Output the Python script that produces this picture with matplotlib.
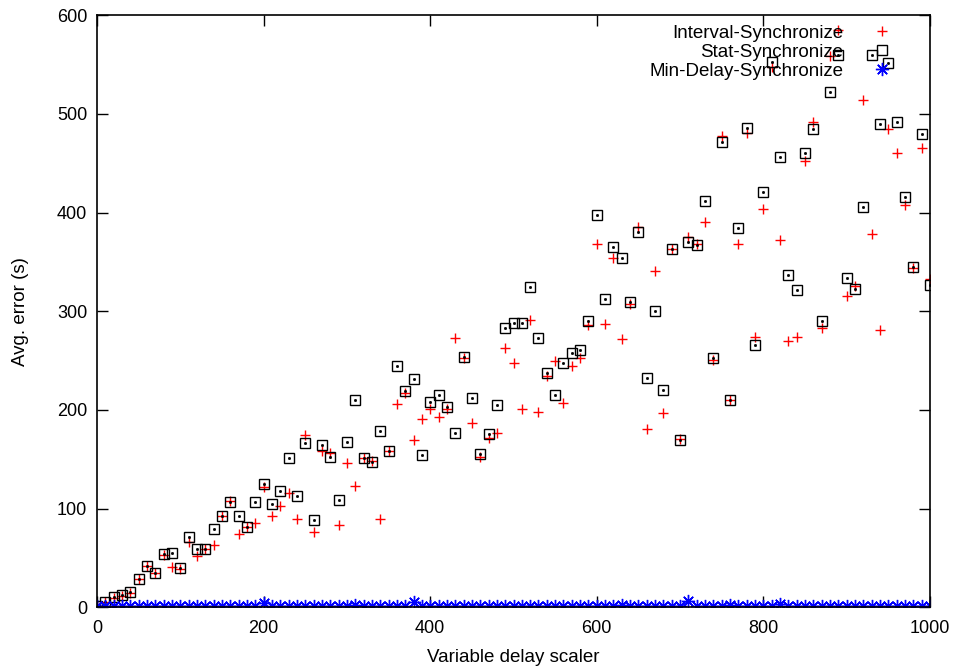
import numpy as np
import matplotlib
matplotlib.use('Agg')
import matplotlib.pyplot as plt


# ##### #
# Data  #
# ##### #
delay_scaler = list(range(0, 1001, 10))

interval_sync = [1, 5, 9, 11.5, 15, 29, 42, 35, 53, 41,
                 39, 66, 52, 59, 63, 93, 108, 74, 81, 85,
                 122, 93, 103, 116, 90, 175, 76, 158, 156, 83,
                 146, 123, 151, 148, 90, 158, 206, 217, 170, 191,
                 201, 193, 201, 273, 253, 187, 152, 172, 177, 263,
                 248, 201, 291, 198, 234, 250, 207, 245, 253, 286,
                 368, 287, 354, 272, 307, 385, 181, 341, 197, 363,
                 171, 375, 368, 391, 251, 478, 210, 368, 481, 274,
                 404, 548, 372, 270, 274, 452, 492, 283, 559, 585,
                 316, 326, 514, 378, 281, 485, 460, 408, 344, 466,
                 333]

stat_sync = [1, 5.6, 10, 12.5, 16, 29, 42, 35, 54, 55,
             40, 71, 59, 59, 79, 93, 107, 93, 81, 107,
             125, 105, 118, 151, 113, 167, 88, 164, 152, 109,
             168, 210, 151, 147, 179, 158, 245, 219, 231, 154,
             208, 215, 203, 177, 254, 212, 155, 176, 205, 283,
             288, 288, 325, 273, 237, 215, 248, 258, 261, 290,
             398, 312, 365, 354, 309, 380, 232, 300, 220, 363,
             170, 370, 367, 412, 253, 472, 210, 384, 486, 266,
             421, 553, 456, 337, 322, 460, 485, 290, 522, 560,
             334, 323, 406, 560, 490, 552, 492, 416, 345, 480,
             327]

min_delay_sync = [1, 1.5, 1, 1.2, 1, 1.4, 1, 1.3, 1, 1.5,
                  1.1, 1.4, 1, 1.2, 1, 1.5, 1.1, 1.3, 1, 1.4,
                  4, 1.2, 1, 1.5, 1, 1.3, 1, 1.4, 1.1, 1.2,
                  1, 2.5, 1, 1.4, 1, 1.3, 1, 1.2, 5, 1.4,
                  1, 1.3, 1.1, 1.5, 1, 1.2, 1, 1.4, 1, 1.3,
                  1.1, 1.5, 1, 1.2, 1, 1.4, 1, 1.3, 1.1, 1.5,
                  1, 1.2, 1, 2, 1, 1.4, 1, 1.3, 1.1, 1.2,
                  1, 6, 1, 1.4, 1, 1.3, 2, 1.2, 1, 1.5,
                  1.1, 1.3, 3.5, 1.4, 1, 1.2, 1, 1.5, 1.1, 1.3,
                  1, 1.4, 1, 1.2, 1, 1.5, 1.1, 1.3, 1, 1.4,
                  1]

x_ticks = [0, 200, 400, 600, 800, 1000]
y_ticks = [0, 100, 200, 300, 400, 500, 600]


# ############### #
# Plot functions  #
# ############### #
def style_axes(ax):
    ax.set_xlim(0, 1000)
    ax.set_ylim(0, 600)
    ax.set_xticks(x_ticks)
    ax.set_yticks(y_ticks)
    ax.tick_params(direction='in', length=8, width=1, top=True, right=True,
                   labelsize=13, colors='black')
    ax.tick_params(axis='x', pad=9)
    ax.tick_params(axis='y', pad=7)
    for spine in ax.spines.values():
        spine.set_linewidth(1.2)
    ax.set_xlabel('Variable delay scaler', fontsize=13.5, labelpad=9)
    ax.set_ylabel('Avg. error (s)', fontsize=13.5, labelpad=20)


def plot_series(ax):
    x = np.array(delay_scaler)
    ax.plot(x, interval_sync, linestyle='none', marker='+', color='#ff0000',
            markersize=7, markeredgewidth=1, label='Interval-Synchronize')
    ax.plot(x, stat_sync, linestyle='none', marker='s', markerfacecolor='none',
            markeredgecolor='black', markersize=7, markeredgewidth=1,
            label='Stat-Synchronize')
    # small dot in the middle of each gnuplot box
    ax.plot(x, stat_sync, linestyle='none', marker='s', color='black',
            markersize=1)
    ax.plot(x, min_delay_sync, linestyle='none', marker=(8, 2, 0), color='#0000ff',
            markersize=9.5, markeredgewidth=1, label='Min-Delay-Synchronize')


def main():
    assert len(interval_sync) == len(delay_scaler)
    assert len(stat_sync) == len(delay_scaler)
    assert len(min_delay_sync) == len(delay_scaler)

    plt.rcParams['font.family'] = ['Liberation Sans', 'DejaVu Sans']
    fig = plt.figure(figsize=(9.58, 6.71), dpi=100)
    ax = fig.add_axes([97 / 958, 1 - 607.3 / 671, 833 / 958, 592 / 671])

    plot_series(ax)
    style_axes(ax)

    ax.legend(loc='upper right', bbox_to_anchor=(0.9646, 0.984), markerfirst=False,
              frameon=False, numpoints=1, handlelength=2, handletextpad=1.06,
              labelspacing=0.1, borderaxespad=0, borderpad=0, fontsize=13.5)

    fig.savefig('out.png', dpi=100)


if __name__ == "__main__":
    main()
